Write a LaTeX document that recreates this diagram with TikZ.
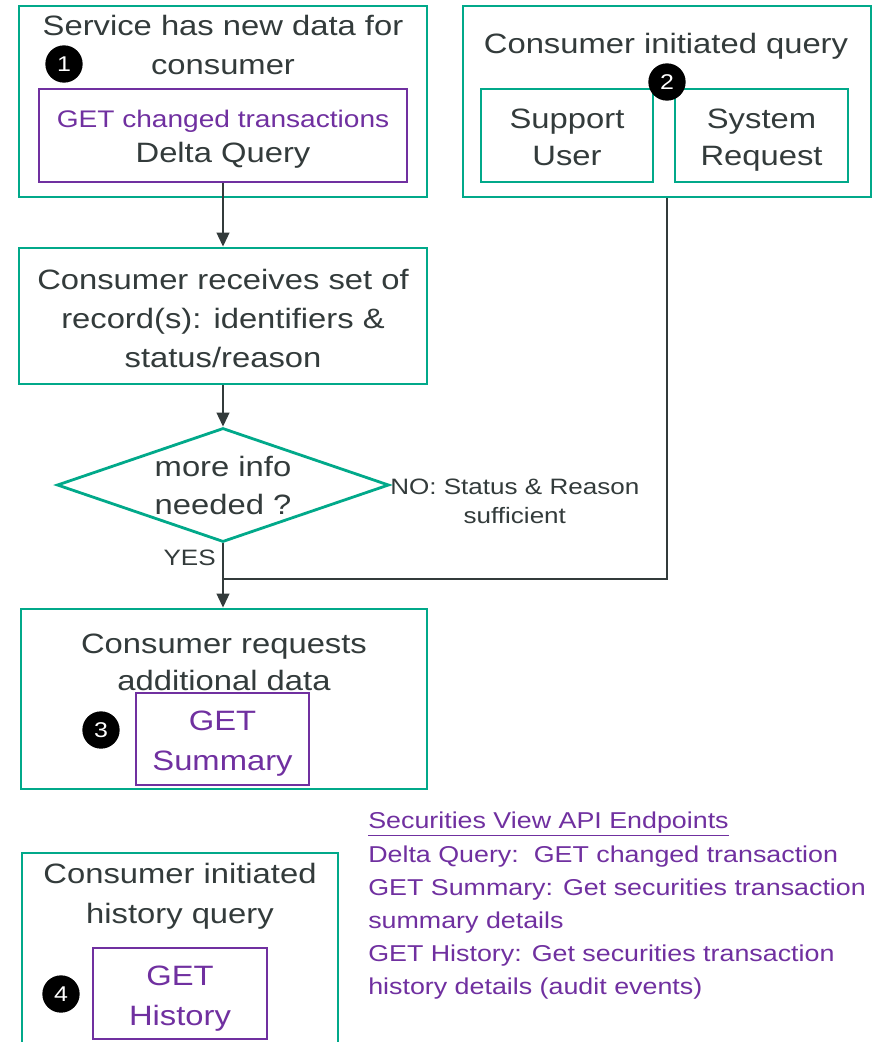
\documentclass[tikz,border=0pt]{standalone}
\usepackage{fontspec}
\setmainfont{Liberation Sans}[FakeStretch=1.17]
\usetikzlibrary{arrows.meta,shapes.geometric}
\definecolor{hpeteal}{HTML}{01A98A}
\definecolor{hpepurple}{HTML}{7030A0}
\definecolor{ink}{HTML}{333B3B}
\newcommand\myfm{\fontsize{21pt}{29.5pt}\selectfont}
\newcommand\myfs{\fontsize{18pt}{26pt}\selectfont}
\newcommand\myfn{\fontsize{16.7pt}{21.75pt}\selectfont}
\newcommand\myfl{\fontsize{17.2pt}{24.9pt}\selectfont}
\newcommand\myfb{\fontsize{16pt}{16pt}\selectfont}
\begin{document}
\begin{tikzpicture}[x=0.75pt,y=-0.75pt,
  tbox/.style={draw=hpeteal, line width=2.1pt, rectangle, inner sep=0pt},
  pbox/.style={draw=hpepurple, line width=1.6pt, rectangle, inner sep=0pt},
  txt/.style={text=ink, align=center, inner sep=0pt, font=\myfm},
  ptxt/.style={text=hpepurple, align=center, inner sep=0pt, font=\fontsize{21pt}{30pt}\selectfont},
  badge/.style={circle, fill=black, text=white, inner sep=0pt, minimum size=28pt, font=\myfb},
  conn/.style={draw=ink, line width=1.5pt},
  arr/.style={conn, -{Triangle[length=10.5pt,width=9.5pt]}}]
\useasboundingbox (0,0) rectangle (879,1042);
\fill[white] (0,0) rectangle (879,1042);

% Box 1
\node[tbox, minimum width={408*0.75pt}, minimum height={191*0.75pt}] (b1) at (223,101.5) {};
\node[txt] (t1) at (223,45) {Service has new data for\\consumer};
\node[pbox, minimum width={368*0.75pt}, minimum height={93*0.75pt}] (p1) at (223,135.5) {};
\node[txt, font=\fontsize{21pt}{26.25pt}\selectfont] (p1t) at (223,139.5)
  {{\myfs\color{hpepurple}GET changed transactions}\\Delta Query};
\node[badge] (n1) at (64,64) {1};

% Box Q
\node[tbox, minimum width={408*0.75pt}, minimum height={191*0.75pt}] (q) at (667,101.5) {};
\node[txt] (tq) at (666,46) {Consumer initiated query};
\node[tbox, minimum width={172*0.75pt}, minimum height={93*0.75pt}] (su) at (567,135.5) {};
\node[txt, font=\fontsize{21pt}{28pt}\selectfont] (sut) at (567,137.5) {Support\\User};
\node[tbox, minimum width={173*0.75pt}, minimum height={93*0.75pt}] (sr) at (761.5,135.5) {};
\node[txt, font=\fontsize{21pt}{28pt}\selectfont] (srt) at (761.5,140) {System\\Request};
\node[badge] (n2) at (667,82) {2};

% Box 2
\node[tbox, minimum width={408*0.75pt}, minimum height={136*0.75pt}] (b2) at (223,316) {};
\node[txt] (b2t) at (223,318.5) {Consumer receives set of\\record(s): identifiers \&\\status/reason};

% Diamond
\node[diamond, draw=hpeteal, line width=2.1pt, inner sep=0pt, minimum width={332*0.75pt}, minimum height={114*0.75pt}] (d) at (223,485) {};
\node[txt, font=\fontsize{21pt}{28.5pt}\selectfont] (dt) at (d.center) {more info\\needed ?};
\node[text=ink, align=center, inner sep=0pt, font=\myfn, anchor=west] (no) at (390,501) {NO: Status \& Reason\\sufficient};
\node[text=ink, inner sep=0pt, font=\myfn, anchor=east] (yes) at (216,558) {YES};
\coordinate (j) at (223,579);

% Box 3
\node[tbox, minimum width={406*0.75pt}, minimum height={180*0.75pt}] (b3) at (224,699) {};
\node[txt, font=\fontsize{21pt}{28pt}\selectfont] (t3) at (224,662.5) {Consumer requests\\additional data};
\node[pbox, minimum width={173*0.75pt}, minimum height={92*0.75pt}, fill=white] (p3) at (222.5,739) {};
\node[ptxt] (p3t) at (222.5,744) {GET\\Summary};
\node[badge] (n3) at (101,730) {3};

% Box 4
\node[tbox, minimum width={316*0.75pt}, minimum height={210*0.75pt}] (b4) at (180,958) {};
\node[txt, font=\fontsize{21pt}{30pt}\selectfont] (t4) at (180,896) {Consumer initiated\\history query};
\node[pbox, minimum width={174*0.75pt}, minimum height={91*0.75pt}] (p4) at (180,993.5) {};
\node[ptxt] (p4t) at (180,998.5) {GET\\History};
\node[badge] (n4) at (61,994) {4};

% Legend
\node[text=hpepurple, align=left, inner sep=0pt, font=\myfl, anchor=west] (leg) at (368,906)
  {\underline{Securities View API Endpoints}\\
   Delta Query:\ \ GET changed transaction\\
   GET Summary: Get securities transaction\\
   summary details\\
   GET History: Get securities transaction\\
   history details (audit events)};

% Connectors
\draw[arr] (p1.south) -- (b2.north);
\draw[arr] (b2.south) -- (d.north);
\draw[conn] (q.south) |- (j);
\draw[arr] (d.south) -- (d.south |- b3.north);
\end{tikzpicture}
\end{document}
